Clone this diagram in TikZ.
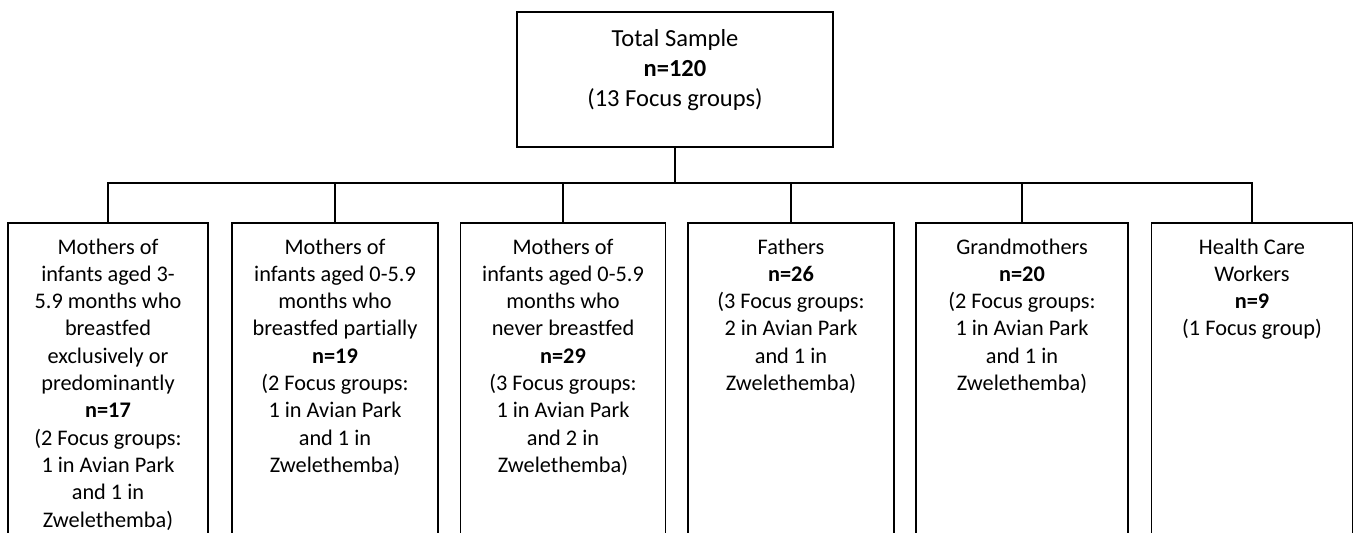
\documentclass[tikz,border=0pt]{standalone}
\usepackage{fontspec}
\setmainfont{Carlito}[Ligatures={NoCommon}]
\begin{document}
\begin{tikzpicture}[x=1pt,y=-1pt,
    line width=1.5pt,
    topbox/.style={draw, line width=1.5pt, minimum width=316pt, minimum height=135pt, inner sep=0pt},
    groupbox/.style={draw, line width=1.5pt, minimum height=340pt, inner sep=0pt,
                     minimum width=#1},
    toptext/.style={anchor=north, inner sep=0pt, yshift=-13pt, align=center,
                    font=\fontsize{24.5}{30}\selectfont},
    grouptext/.style={anchor=north, inner sep=0pt, yshift=-11.9pt, align=center,
                      font=\fontsize{22.3}{27.3}\selectfont},
    link/.style={line width=1.5pt}]
  \useasboundingbox (0,0) rectangle (1353,533);
  \clip (0,0) rectangle (1353,533);

  % overall sample
  \node[topbox, label={[toptext]north:\strut Total Sample\\\textbf{n=120}\\(13 Focus groups)}]
    (top) at (675,79.5) {};

  % the six participant groups (boxes run past the lower edge)
  \node[groupbox=200pt, label={[grouptext]north:\strut Mothers of\\infants aged 3-\\5.9 months who\\breastfed\\exclusively or\\predominantly\\\textbf{n=17}\\(2 Focus groups:\\1 in Avian Park\\and 1 in\\Zwelethemba)}]
    (b1) at (108,393) {};
  \node[groupbox=206pt, label={[grouptext]north:\strut Mothers of\\infants aged 0-5.9\\months who\\breastfed partially\\\textbf{n=19}\\(2 Focus groups:\\1 in Avian Park\\and 1 in\\Zwelethemba)}]
    (b2) at (335,393) {};
  \node[groupbox=205pt, label={[grouptext]north:\strut Mothers of\\infants aged 0-5.9\\months who\\never breastfed\\\textbf{n=29}\\(3 Focus groups:\\1 in Avian Park\\and 2 in\\Zwelethemba)}]
    (b3) at (563,393) {};
  \node[groupbox=206pt, label={[grouptext]north:\strut Fathers\\\textbf{n=26}\\(3 Focus groups:\\2 in Avian Park\\and 1 in\\Zwelethemba)}]
    (b4) at (791,393) {};
  \node[groupbox=212pt, label={[grouptext]north:\strut Grandmothers\\\textbf{n=20}\\(2 Focus groups:\\1 in Avian Park\\and 1 in\\Zwelethemba)}]
    (b5) at (1022,393) {};
  \node[groupbox=201pt, label={[grouptext]north:\strut Health Care\\Workers\\\textbf{n=9}\\(1 Focus group)}]
    (b6) at (1252,393) {};

  % branching connectors
  \coordinate (bus) at (675,183);
  \draw[link] (top.south) -- (bus);
  \draw[link] (b1.north) -- (b1.north |- bus) -- (b6.north |- bus) -- (b6.north);
  \foreach \b in {b2,b3,b4,b5}
    \draw[link] (\b.north) -- (\b.north |- bus);
\end{tikzpicture}
\end{document}
